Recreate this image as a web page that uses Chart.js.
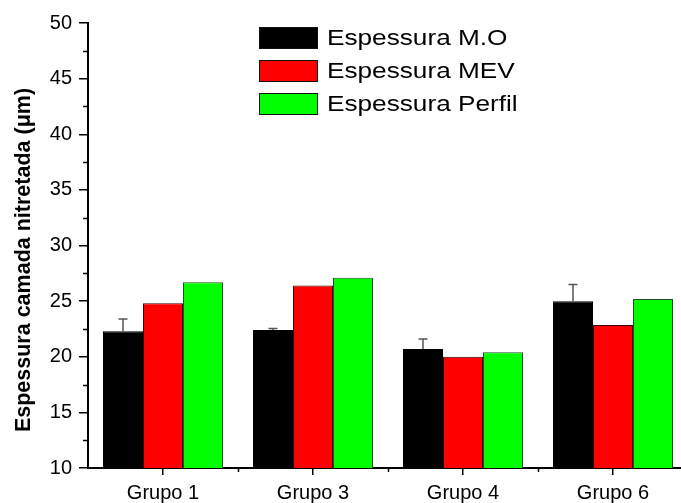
<!DOCTYPE html>
<html>
<head>
<meta charset="utf-8">
<script src="https://cdn.jsdelivr.net/npm/chart.js@4.4.0/dist/chart.umd.min.js"></script>
<style>
  html, body { margin: 0; padding: 0; background: #fff; overflow: hidden; }
  canvas { display: block; }
</style>
</head>
<body>
<canvas id="grafico" width="688" height="503"></canvas>
<script>
var grupos = ["Grupo 1", "Grupo 3", "Grupo 4", "Grupo 6"];
var espMO = [22.3, 22.4, 20.7, 25.0];
var espMOErro = [1.1, 0.15, 0.9, 1.5];
var espMEV = [24.8, 26.4, 20.0, 22.85];
var espPerfil = [26.7, 27.1, 20.4, 25.2];
var yTicks = [10, 15, 20, 25, 30, 35, 40, 45, 50];

var fonte = "'Liberation Sans', Arial, sans-serif";

// barra de erro (só para cima) na série M.O
var barraErro = {
    id: "barraErro",
    afterDatasetsDraw: function (chart) {
        var ctx = chart.ctx;
        var y = chart.scales.y;
        var meta = chart.getDatasetMeta(0);
        ctx.save();
        ctx.strokeStyle = "#555";
        ctx.lineWidth = 1.5;
        meta.data.forEach(function (bar, i) {
            var topo = y.getPixelForValue(espMO[i] + espMOErro[i]);
            ctx.beginPath();
            ctx.moveTo(bar.x, bar.y);
            ctx.lineTo(bar.x, topo);
            ctx.moveTo(bar.x - 4.5, topo);
            ctx.lineTo(bar.x + 4.5, topo);
            ctx.stroke();
        });
        ctx.restore();
    }
};

// ticks menores, título do eixo y e legenda
var extras = {
    id: "extras",
    afterDraw: function (chart) {
        var ctx = chart.ctx;
        var area = chart.chartArea;
        var x = chart.scales.x;
        var y = chart.scales.y;
        ctx.save();
        ctx.strokeStyle = "#000";
        ctx.lineWidth = 1.5;
        ctx.beginPath();
        for (var v = 12.5; v < 50; v += 5) {
            var py = Math.round(y.getPixelForValue(v)) + 0.5;
            ctx.moveTo(area.left - 5, py);
            ctx.lineTo(area.left, py);
        }
        for (var i = 0; i < grupos.length - 1; i++) {
            var px = Math.round((x.getPixelForValue(i) + x.getPixelForValue(i + 1)) / 2) + 0.5;
            ctx.moveTo(px, area.bottom);
            ctx.lineTo(px, area.bottom + 4);
        }
        ctx.stroke();

        ctx.translate(24, 260);
        ctx.rotate(-Math.PI / 2);
        ctx.fillStyle = "#000";
        ctx.font = "bold 21.5px " + fonte;
        ctx.textAlign = "center";
        ctx.textBaseline = "middle";
        ctx.fillText("Espessura camada nitretada (\u03bcm)", 0, 0);
        ctx.restore();

        ctx.save();
        ctx.font = "22px " + fonte;
        ctx.textBaseline = "middle";
        ctx.textAlign = "left";
        chart.data.datasets.forEach(function (ds, k) {
            var top = 27 + k * 33;
            ctx.fillStyle = ds.backgroundColor;
            ctx.fillRect(259, top, 59, 22);
            ctx.strokeStyle = "#111";
            ctx.lineWidth = 1;
            ctx.strokeRect(259.5, top + 0.5, 58, 21);
            ctx.fillStyle = "#000";
            ctx.save();
            ctx.translate(327, top + 12);
            ctx.scale(1.19, 1);
            ctx.fillText(ds.label, 0, 0);
            ctx.restore();
        });
        ctx.restore();
    }
};

new Chart("grafico", {
    type: "bar",
    data: {
        labels: grupos,
        datasets: [{
            label: "Espessura M.O",
            data: espMO,
            backgroundColor: "#000000",
            borderColor: "#000000",
            borderWidth: 1
        }, {
            label: "Espessura MEV",
            data: espMEV,
            backgroundColor: "#ff0000",
            borderColor: "#3a0000",
            borderWidth: 1
        }, {
            label: "Espessura Perfil",
            data: espPerfil,
            backgroundColor: "#00ff00",
            borderColor: "#1f4f1f",
            borderWidth: 1
        }]
    },
    options: {
        responsive: false,
        animation: false,
        layout: { padding: { top: 23, right: 0, bottom: 0, left: 0 } },
        plugins: {
            legend: { display: false },
            tooltip: { enabled: false }
        },
        datasets: {
            bar: { categoryPercentage: 0.8, barPercentage: 1.0 }
        },
        scales: {
            x: {
                offset: true,
                grid: {
                    offset: false,
                    drawOnChartArea: false,
                    color: "#000",
                    lineWidth: 1.5,
                    tickLength: 7
                },
                border: { display: true, color: "#000", width: 2 },
                ticks: {
                    color: "#000",
                    font: { family: fonte, size: 20 },
                    padding: 6,
                    maxRotation: 0
                },
                afterFit: function (scale) { scale.height = 35; }
            },
            y: {
                min: 10,
                max: 50,
                afterBuildTicks: function (scale) {
                    scale.ticks = yTicks.map(function (v) { return { value: v }; });
                },
                grid: {
                    drawOnChartArea: false,
                    color: "#000",
                    lineWidth: 1.5,
                    tickLength: 9
                },
                border: { display: true, color: "#000", width: 2 },
                ticks: {
                    color: "#000",
                    font: { family: fonte, size: 20 },
                    padding: 7
                },
                afterFit: function (scale) { scale.width = 88; }
            }
        }
    },
    plugins: [barraErro, extras]
});
</script>
</body>
</html>
